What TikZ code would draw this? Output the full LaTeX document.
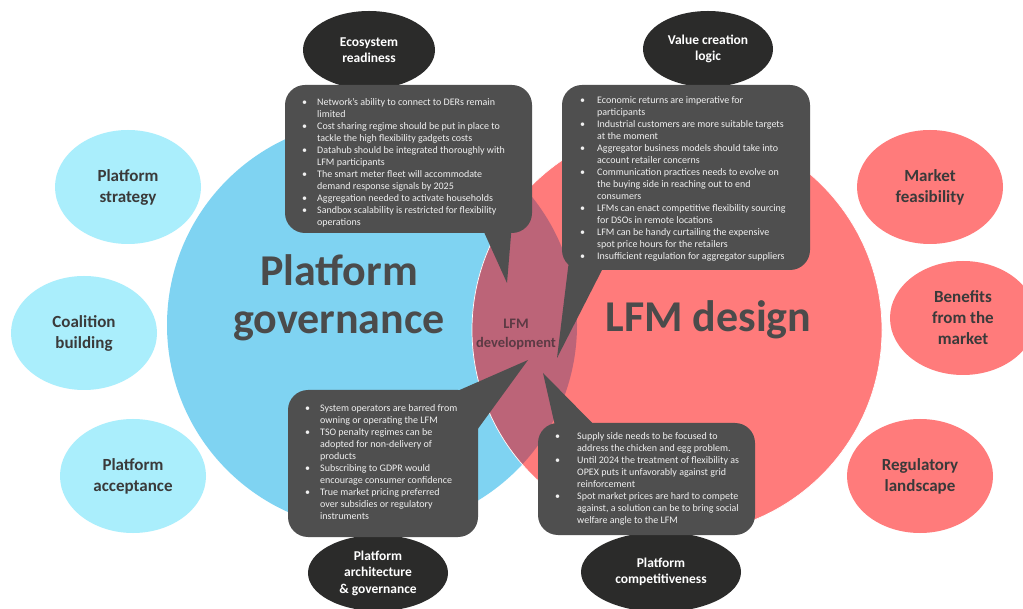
\documentclass[tikz,border=0pt]{standalone}
\usepackage{fontspec}
\setmainfont{Carlito}
\usetikzlibrary{shapes.geometric,calc}
\definecolor{bigblue}{HTML}{7FD3F2}
\definecolor{bigpink}{HTML}{FF7B7B}
\definecolor{lenscol}{HTML}{BC6478}
\definecolor{smallblue}{HTML}{AAEEFC}
\definecolor{calloutgray}{HTML}{4F4F4F}
\definecolor{darkell}{HTML}{2B2B2A}
\definecolor{titlegray}{HTML}{4B4B4B}
\definecolor{labelgray}{HTML}{3A3A3A}
\definecolor{lenstext}{HTML}{5C3A44}
\definecolor{bullettext}{HTML}{F0F0F0}
\newcommand{\bul}[1]{\makebox[#1][l]{\textbullet}}
\begin{document}
\begin{tikzpicture}[x=1pt,y=-1pt,
  sideblue/.style={ellipse, fill=smallblue, inner sep=0pt, minimum width=146pt, minimum height=114pt, align=center, text=labelgray, font=\fontsize{17}{21}\selectfont\bfseries},
  sidepink/.style={sideblue, fill=bigpink},
  darkellipse/.style={ellipse, fill=darkell, inner sep=0pt, align=center, text=white, font=\fontsize{13.5}{16.5}\selectfont\bfseries},
  calloutbox/.style={rectangle, rounded corners=20pt, fill=calloutgray, inner sep=0pt},
  wedge/.style={fill=calloutgray},
  bullets/.style={inner sep=0pt, anchor=base west, text=bullettext, font=\fontsize{10}{12}\selectfont},
  bigtitle/.style={text=titlegray, font=\fontsize{44}{48}\selectfont\bfseries, inner sep=0pt, align=center}
]
\useasboundingbox[fill=white] (0,0) rectangle (1023,609);

% big circles
\fill[bigblue] (372,325) circle[radius=205pt];
\fill[bigpink] (677,330) circle[radius=205pt];
\begin{scope}
  \clip (372,325) circle[radius=205pt];
  \fill[lenscol] (677,330) circle[radius=205pt];
\end{scope}
\draw[white, line width=0.7pt] (677,330) circle[radius=205pt];

% side ellipses
\node[sideblue] (strategy) at (128,187) {Platform\\strategy};
\node[sideblue] (coalition) at (84,333) {Coalition\\building};
\node[sideblue] (acceptance) at (133,476) {Platform\\acceptance};
\node[sidepink] (feasibility) at (930,187) {Market\\feasibility};
\node[sidepink] (benefits) at (963,318) {Benefits\\from the\\market};
\node[sidepink] (regulatory) at (920,476) {Regulatory\\landscape};

% titles
\node[bigtitle] (govtitle) at (339,298) {Platform\\governance};
\node[bigtitle, anchor=base] (lfmtitle) at (708.5,332) {LFM design};
\node[align=center, text=lenstext, font=\fontsize{14.5}{19}\selectfont\bfseries, inner sep=0pt] (lfmdev) at (516,334) {LFM\\development};

% dark ellipses
\node[darkellipse, minimum width=132pt, minimum height=78pt] (eco) at (369,50) {Ecosystem\\readiness};
\node[darkellipse, minimum width=130pt, minimum height=76pt] (val) at (708,49) {Value creation\\logic};
\node[darkellipse, minimum width=140pt, minimum height=76pt] (arch) at (378,573) {Platform\\architecture\\\& governance};
\node[darkellipse, minimum width=160pt, minimum height=80pt] (comp) at (661,572) {Platform\\competitiveness};

% pointer tips
\coordinate (tipTL) at (507,283);
\coordinate (tipTR) at (557,358);
\coordinate (tipBL) at (528,360);
\coordinate (tipBR) at (543,373);

% callouts
\node[calloutbox, minimum width=247pt, minimum height=148pt] (tl) at (408.5,159) {};
\fill[wedge] ($(tl.south)+(71.5,-10)$) -- (tipTL) -- ($(tl.south)+(103.5,-10)$) -- cycle;
\node[calloutbox, minimum width=248pt, minimum height=185pt] (tr) at (686,177.5) {};
\fill[wedge] ($(tr.south)+(-117,-10)$) -- (tipTR) -- ($(tr.south)+(-79,-10)$) -- cycle;
\node[calloutbox, minimum width=190pt, minimum height=147pt] (bl) at (383,463.5) {};
\fill[wedge] ($(bl.north east)+(-25,3)$) -- (tipBL) -- ($(bl.north east)+(-1,40)$) -- cycle;
\node[calloutbox, minimum width=217pt, minimum height=112pt] (br) at (646.5,479) {};
\fill[wedge] ($(br.north)+(-91.5,3)$) -- (tipBR) -- ($(br.north)+(-51.5,3)$) -- cycle;

% callout texts
\node[bullets] (tltext) at (302,105.5) {\begin{tabular}[t]{@{}l@{}l@{}}
\bul{15pt} & Network’s ability to connect to DERs remain\\
 & limited\\
\bul{15pt} & Cost sharing regime should be put in place to\\
 & tackle the high flexibility gadgets costs\\
\bul{15pt} & Datahub should be integrated thoroughly with\\
 & LFM participants\\
\bul{15pt} & The smart meter fleet will accommodate\\
 & demand response signals by 2025\\
\bul{15pt} & Aggregation needed to activate households\\
\bul{15pt} & Sandbox scalability is restricted for flexibility\\
 & operations
\end{tabular}};

\node[bullets] (trtext) at (580,103.5) {\begin{tabular}[t]{@{}l@{}l@{}}
\bul{17pt} & Economic returns are imperative for\\
 & participants\\
\bul{17pt} & Industrial customers are more suitable targets\\
 & at the moment\\
\bul{17pt} & Aggregator business models should take into\\
 & account retailer concerns\\
\bul{17pt} & Communication practices needs to evolve on\\
 & the buying side in reaching out to end\\
 & consumers\\
\bul{17pt} & LFMs can enact competitive flexibility sourcing\\
 & for DSOs in remote locations\\
\bul{17pt} & LFM can be handy curtailing the expensive\\
 & spot price hours for the retailers\\
\bul{17pt} & Insufficient regulation for aggregator suppliers
\end{tabular}};

\node[bullets] (bltext) at (305,411.5) {\begin{tabular}[t]{@{}l@{}l@{}}
\bul{15pt} & System operators are barred from\\
 & owning or operating the LFM\\
\bul{15pt} & TSO penalty regimes can be\\
 & adopted for non-delivery of\\
 & products\\
\bul{15pt} & Subscribing to GDPR would\\
 & encourage consumer confidence\\
\bul{15pt} & True market pricing preferred\\
 & over subsidies or regulatory\\
 & instruments
\end{tabular}};

\node[bullets] (brtext) at (555,439.5) {\begin{tabular}[t]{@{}l@{}l@{}}
\bul{22pt} & Supply side needs to be focused to\\
 & address the chicken and egg problem.\\
\bul{22pt} & Until 2024 the treatment of flexibility as\\
 & OPEX puts it unfavorably against grid\\
 & reinforcement\\
\bul{22pt} & Spot market prices are hard to compete\\
 & against, a solution can be to bring social\\
 & welfare angle to the LFM
\end{tabular}};
\end{tikzpicture}
\end{document}
